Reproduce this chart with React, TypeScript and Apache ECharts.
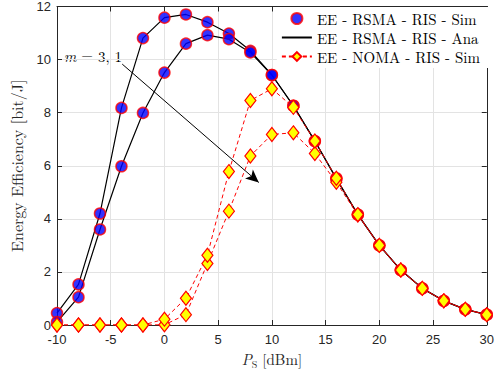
import React, { useEffect, useRef } from "react";
import * as echarts from "echarts";

const xValues = [-10, -8, -6, -4, -2, 0, 2, 4, 6, 8, 10, 12, 14, 16, 18, 20, 22, 24, 26, 28, 30];
const rsmaM3 = [0.45, 1.53, 4.2, 8.18, 10.81, 11.58, 11.7, 11.41, 10.98, 10.33, 9.42, 8.26, 6.93, 5.53, 4.16, 3.0, 2.07, 1.38, 0.91, 0.59, 0.39];
const rsmaM1 = [0.11, 1.05, 3.6, 5.98, 7.99, 9.51, 10.6, 10.92, 10.77, 10.27, 9.42, 8.26, 6.93, 5.5, 4.16, 3.0, 2.07, 1.38, 0.91, 0.59, 0.39];
const nomaM3 = [0, 0, 0, 0, 0, 0.22, 1.01, 2.63, 5.78, 8.46, 8.9, 8.2, 6.93, 5.53, 4.16, 3.0, 2.07, 1.38, 0.91, 0.59, 0.39];
const nomaM1 = [0, 0, 0, 0, 0, 0.01, 0.39, 2.32, 4.29, 6.37, 7.18, 7.24, 6.46, 5.38, 4.14, 3.0, 2.07, 1.38, 0.91, 0.59, 0.39];
const legendNames = ["EE - RSMA - RIS - Sim", "EE - RSMA - RIS - Ana", "EE - NOMA - RIS - Sim"];
const arrowStart = [-3.93, 9.83];
const arrowEnd = [8.78, 5.37];

const pair = (ys: number[]) => xValues.map((x, i) => [x, ys[i]]);

const SERIF = "'Latin Modern Roman', 'CMU Serif', 'Liberation Serif', serif";
const SANS = "'Liberation Sans', Arial, Helvetica, sans-serif";
const AXIS_COLOR = "#262626";

export default function App() {
  const ref = useRef<HTMLDivElement>(null);
  useEffect(() => {
    if (!ref.current) return;
    const chart = echarts.init(ref.current, null, { renderer: "svg" });
    const simStyle = {
      type: "scatter" as const,
      name: legendNames[0],
      symbol: "circle",
      symbolSize: 11,
      itemStyle: { color: "#0000ff", borderColor: "#ff0000", borderWidth: 1.5 },
      z: 3,
    };
    const anaStyle = {
      type: "line" as const,
      name: legendNames[1],
      symbol: "none",
      lineStyle: { color: "#000000", width: 1.2 },
      itemStyle: { color: "#000000" },
      z: 2,
    };
    const nomaStyle = {
      type: "line" as const,
      name: legendNames[2],
      symbol: "diamond",
      symbolSize: [11, 14],
      showSymbol: true,
      lineStyle: { color: "#ff0000", width: 1, type: [4, 3] },
      itemStyle: { color: "#ffff00", borderColor: "#ff0000", borderWidth: 1.2 },
      z: 4,
    };
    const xBase = {
      type: "value" as const,
      min: -10,
      max: 30,
      interval: 5,
      axisLine: { show: true, onZero: false, lineStyle: { color: AXIS_COLOR, width: 1 } },
      axisTick: { show: true, inside: true, length: 5, lineStyle: { color: AXIS_COLOR } },
    };
    const yBase = {
      type: "value" as const,
      min: 0,
      max: 12,
      interval: 2,
      axisLine: { show: true, onZero: false, lineStyle: { color: AXIS_COLOR, width: 1 } },
      axisTick: { show: true, inside: true, length: 5, lineStyle: { color: AXIS_COLOR } },
    };
    chart.setOption({
      animation: false,
      backgroundColor: "#ffffff",
      grid: { left: 54, right: 8, top: 6, bottom: 47 },
      xAxis: [
        {
          ...xBase,
          position: "bottom",
          axisLabel: { color: AXIS_COLOR, fontFamily: SANS, fontSize: 13, margin: 8 },
          splitLine: { show: true, lineStyle: { color: "#e3e3e3", width: 1 } },
          name: "{i|P}{s|S}{r| [dBm]}",
          nameLocation: "middle",
          nameGap: 26,
          nameTextStyle: {
            fontFamily: SERIF,
            fontSize: 15,
            color: AXIS_COLOR,
            rich: {
              i: { fontFamily: SERIF, fontStyle: "italic", fontSize: 15, lineHeight: 16, verticalAlign: "top", color: AXIS_COLOR },
              s: { fontFamily: SERIF, fontSize: 10, lineHeight: 10, verticalAlign: "top", padding: [8, 0, 0, 0], color: AXIS_COLOR },
              r: { fontFamily: SERIF, fontSize: 15, lineHeight: 16, verticalAlign: "top", color: AXIS_COLOR },
            },
          },
        },
        { ...xBase, position: "top", axisLabel: { show: false }, splitLine: { show: false } },
      ],
      yAxis: [
        {
          ...yBase,
          position: "left",
          axisLabel: { color: AXIS_COLOR, fontFamily: SANS, fontSize: 13, margin: 6 },
          splitLine: { show: true, lineStyle: { color: "#e3e3e3", width: 1 } },
          name: "Energy Efficiency [bit/J]",
          nameLocation: "middle",
          nameGap: 33,
          nameTextStyle: { fontFamily: SERIF, fontSize: 16, color: AXIS_COLOR },
        },
        { ...yBase, position: "right", axisLabel: { show: false }, splitLine: { show: false } },
      ],
      legend: {
        data: [
          { name: legendNames[0] },
          { name: legendNames[1], itemStyle: { opacity: 0 } },
          { name: legendNames[2] },
        ],
        orient: "vertical",
        right: 9,
        top: 7,
        backgroundColor: "#ffffff",
        padding: [4, 8, 4, 4],
        itemGap: 4,
        itemWidth: 30,
        itemHeight: 11,
        textStyle: { fontFamily: SERIF, fontSize: 15, color: "#000000" },
      },
      graphic: [
        {
          type: "text",
          x: 64,
          y: 55,
          style: {
            text: "{i|m} = 3, 1",
            fontFamily: SERIF,
            fontSize: 15,
            fill: "#000000",
            verticalAlign: "middle",
            rich: { i: { fontFamily: SERIF, fontStyle: "italic", fontSize: 15 } },
          },
        },
      ],
      series: [
        { ...anaStyle, data: pair(rsmaM3) },
        { ...anaStyle, data: pair(rsmaM1) },
        { ...simStyle, data: pair(rsmaM3) },
        { ...simStyle, data: pair(rsmaM1) },
        { ...nomaStyle, data: pair(nomaM1) },
        { ...nomaStyle, data: pair(nomaM3) },
        {
          type: "line",
          name: "arrow",
          data: [],
          markLine: {
            silent: true,
            symbol: ["none", "arrow"],
            symbolSize: [9, 13],
            label: { show: false },
            lineStyle: { color: "#000000", width: 1, type: "solid" },
            data: [[{ coord: arrowStart }, { coord: arrowEnd }]],
          },
          z: 5,
        },
      ],
    });
    return () => chart.dispose();
  }, []);
  return <div ref={ref} style={{ width: 497, height: 374, position: "absolute", left: 0, top: 0 }} />;
}
